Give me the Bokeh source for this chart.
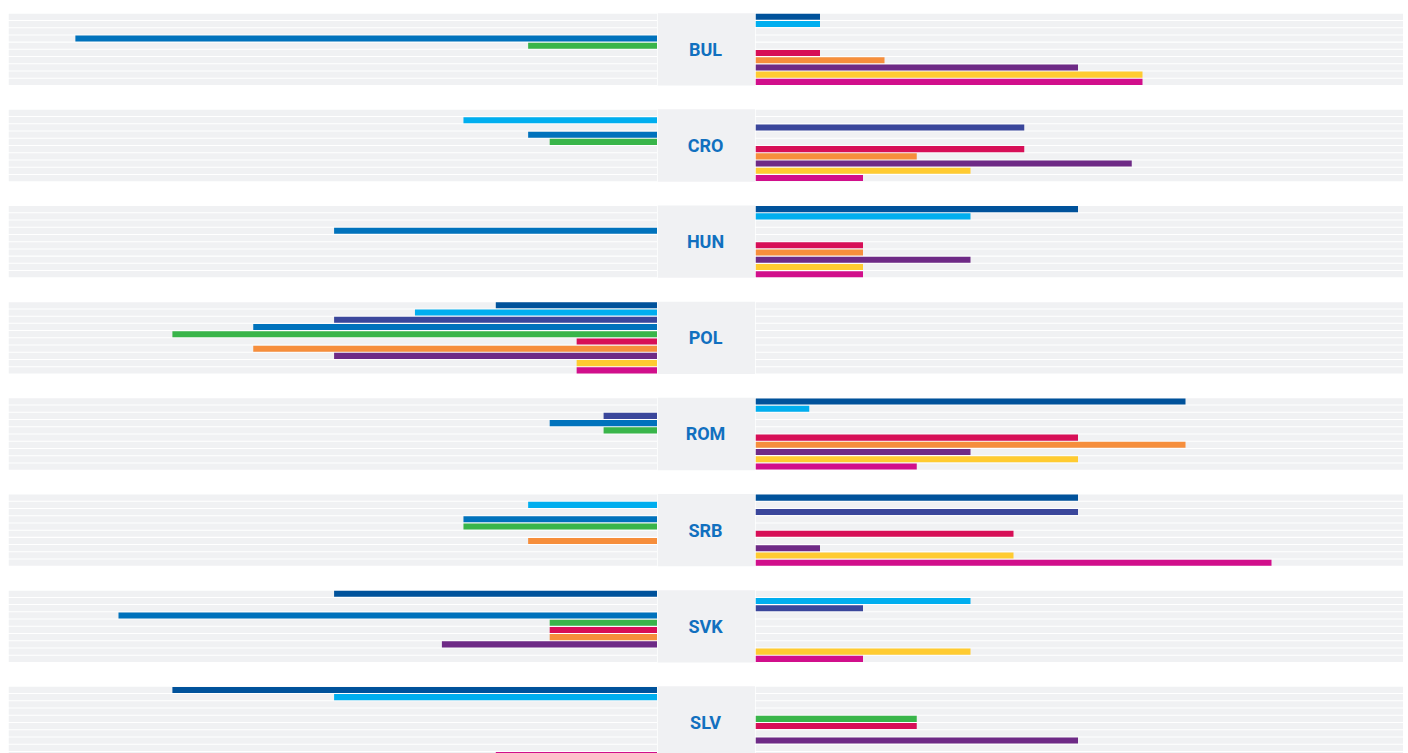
from bokeh.plotting import figure
from bokeh.layouts import row
from bokeh.models import Range1d, ColumnDataSource
from bokeh.embed import file_html
from bokeh.resources import INLINE
from bokeh.core.properties import value

# ---------------- data ----------------
countries = ["BUL", "CRO", "HUN", "POL", "ROM", "SRB", "SVK", "SLV"]
series = ["S1", "S2", "S3", "S4", "S5", "S6", "S7", "S8", "S9", "S10"]
colors = ["#00529b", "#00aeef", "#3a469b", "#0072bc", "#39b54a",
          "#d70f57", "#f68e3c", "#6e2a86", "#ffcb31", "#d10f8b"]

left_BUL = [0, 0, 0, 54, 12, 0, 0, 0, 0, 0]
left_CRO = [0, 18, 0, 12, 10, 0, 0, 0, 0, 0]
left_HUN = [0, 0, 0, 30, 0, 0, 0, 0, 0, 0]
left_POL = [15, 22.5, 30, 37.5, 45, 7.5, 37.5, 30, 7.5, 7.5]
left_ROM = [0, 0, 5, 10, 5, 0, 0, 0, 0, 0]
left_SRB = [0, 12, 0, 18, 18, 0, 12, 0, 0, 0]
left_SVK = [30, 0, 0, 50, 10, 10, 10, 20, 0, 0]
left_SLV = [45, 30, 0, 0, 0, 0, 0, 0, 0, 15]

right_BUL = [6, 6, 0, 0, 0, 6, 12, 30, 36, 36]
right_CRO = [0, 0, 25, 0, 0, 25, 15, 35, 20, 10]
right_HUN = [30, 20, 0, 0, 0, 10, 10, 20, 10, 10]
right_POL = [0, 0, 0, 0, 0, 0, 0, 0, 0, 0]
right_ROM = [40, 5, 0, 0, 0, 30, 40, 20, 30, 15]
right_SRB = [30, 0, 30, 0, 0, 24, 0, 6, 24, 48]
right_SVK = [0, 20, 10, 0, 0, 0, 0, 0, 20, 10]
right_SLV = [0, 0, 0, 0, 15, 15, 0, 30, 0, 0]

left_values = [left_BUL, left_CRO, left_HUN, left_POL, left_ROM, left_SRB, left_SVK, left_SLV]
right_values = [right_BUL, right_CRO, right_HUN, right_POL, right_ROM, right_SRB, right_SVK, right_SLV]

# ---------------- layout constants ----------------
GROUP_PITCH = 13.3   # rows per group incl. gap
ROW_PX = 7.23
H = 745
Y_TOP = -0.65
Y_BOT = Y_TOP + H / ROW_PX
LEFT_PX_PER_UNIT = 10.78
RIGHT_PX_PER_UNIT = 10.75
LW, CW, RW = 649, 98, 648
GREY = "#f0f1f3"
LABEL_COLOR = "#1170bf"


def row_y(g, r):
    return g * GROUP_PITCH + r + 0.5


def base_fig(width, xr):
    p = figure(width=width, height=H, x_range=xr, y_range=Range1d(Y_BOT, Y_TOP),
               x_axis_type=None, y_axis_type=None, toolbar_location=None,
               output_backend="svg", min_border=0, outline_line_color=None,
               background_fill_color="white", border_fill_color="white")
    p.grid.visible = False
    return p


def panel(width, vals_list, xmax, flip):
    xr = Range1d(xmax, 0) if flip else Range1d(0, xmax)
    p = base_fig(width, xr)
    ys = [row_y(g, r) for g in range(len(countries)) for r in range(len(series))]
    p.hbar(y=ys, left=0, right=xmax, height=0.86, fill_color=GREY, line_color=None)
    by, bv, bc = [], [], []
    for g, vals in enumerate(vals_list):
        for r, v in enumerate(vals):
            if v > 0:
                by.append(row_y(g, r))
                bv.append(v)
                bc.append(colors[r])
    src = ColumnDataSource(dict(y=by, v=bv, c=bc))
    p.hbar(y="y", left=0, right="v", height=0.84, fill_color="c", line_color=None, source=src)
    return p


left = panel(LW, left_values, LW / LEFT_PX_PER_UNIT, True)
right = panel(RW, right_values, RW / RIGHT_PX_PER_UNIT, False)

center = base_fig(CW, Range1d(0, 1))
tops = [g * GROUP_PITCH for g in range(len(countries))]
bots = [t + len(series) for t in tops]
center.quad(left=0, right=1, top=tops, bottom=bots, fill_color=GREY, line_color=None)
center.text(x=[0.49] * len(countries), y=[t + 5 for t in tops], text=countries,
            text_align="center", text_baseline="middle", text_color=LABEL_COLOR,
            text_font=value("Roboto"), text_font_style="bold", text_font_size="18px")

layout = row(left, center, right, spacing=0, margin=(8, 0, 0, 8))
open("out.html", "w").write(file_html(layout, INLINE))
